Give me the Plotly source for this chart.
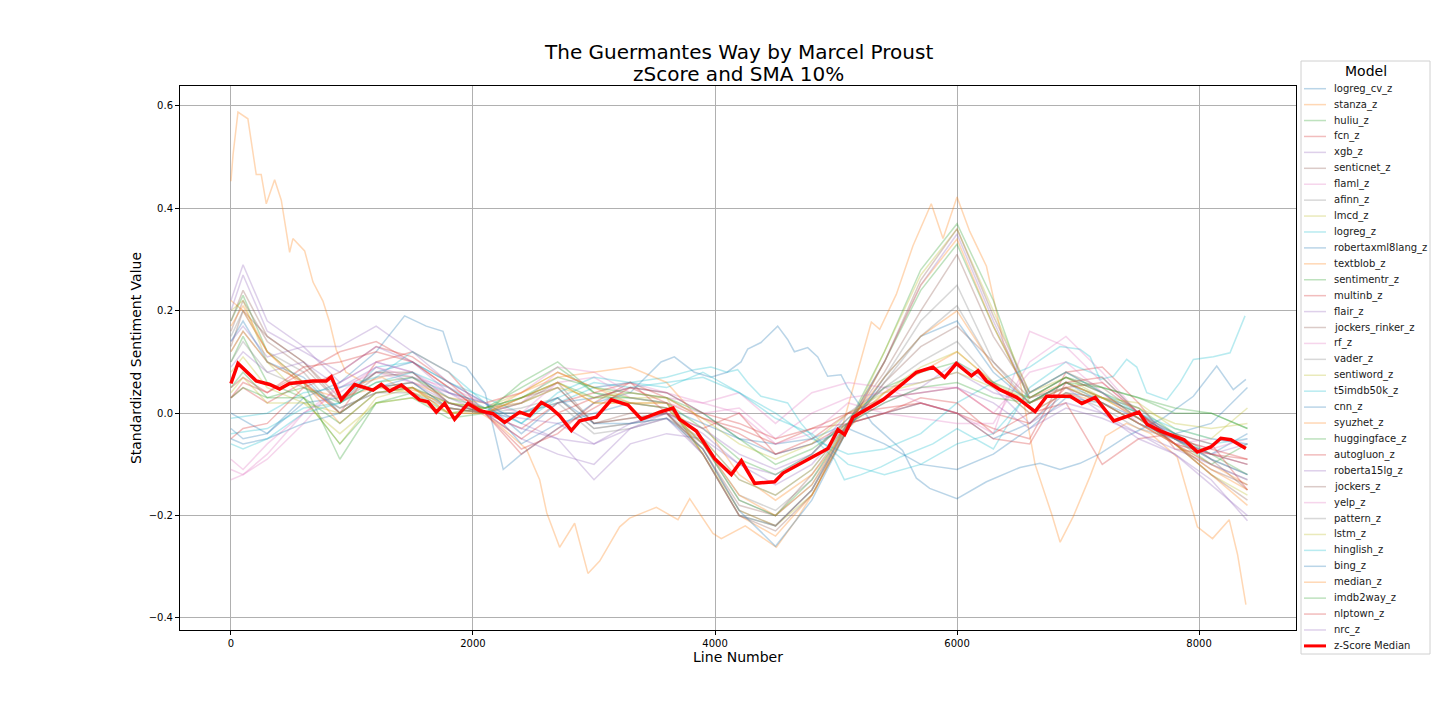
import plotly.graph_objects as go

# sample positions (line number) shared by most model curves
XB = [0, 100, 300, 600, 900, 1200, 1500, 1800, 2100, 2400, 2700, 3000, 3300, 3600, 3900,
      4200, 4500, 4800, 5100, 5400, 5700, 6000, 6300, 6600, 6900, 7200, 7500, 7800, 8100, 8400]

# stanza_z has its own finer samples (it is the outlier curve)
X_STANZA = [0, 17, 58, 140, 209, 250, 292, 361, 416, 485, 512, 609, 678, 760, 815, 870, 950,
            1100, 1250, 1400, 1600, 1800, 2000, 2200, 2441, 2551, 2610, 2716, 2840, 2950, 3047,
            3212, 3295, 3515, 3694, 3791, 3983, 4052, 4250, 4507, 4672, 4837, 5030, 5140, 5292,
            5361, 5498, 5636, 5787, 5884, 6000, 6105, 6243, 6382, 6520, 6645, 6783, 6852, 6962,
            7100, 7225, 7400, 7600, 7820, 7986, 8111, 8249, 8318, 8387]
stanza_z = [0.453, 0.504, 0.588, 0.575, 0.466, 0.466, 0.409, 0.456, 0.416, 0.314, 0.341, 0.317,
            0.256, 0.219, 0.178, 0.124, 0.08, 0.06, 0.07, 0.05, 0.04, 0.02, 0.01, -0.02, -0.07,
            -0.13, -0.195, -0.262, -0.215, -0.313, -0.289, -0.222, -0.205, -0.184, -0.208, -0.167,
            -0.235, -0.245, -0.22, -0.262, -0.208, -0.147, -0.045, 0.049, 0.178, 0.164, 0.232,
            0.327, 0.409, 0.341, 0.422, 0.355, 0.287, 0.138, 0.063, -0.100, -0.198, -0.252,
            -0.201, -0.123, -0.045, -0.02, -0.04, -0.086, -0.222, -0.245, -0.208, -0.276, -0.374]

# blue curve that runs against the others (high near 4500, low near 6000)
X_ROBXML = [0, 300, 600, 900, 1200, 1435, 1614, 1752, 1834, 1945, 2100, 2250, 2400, 2700, 3000,
            3300, 3554, 3664, 3829, 3966, 4100, 4215, 4270, 4380, 4518, 4600, 4656, 4766, 4849,
            4931, 5041, 5096, 5300, 5550, 5664, 5774, 6000, 6243, 6520, 6686, 6851, 7016, 7182,
            7405, 7700, 7953, 8146, 8283, 8387]
robertaxml8lang_z = [0.0, -0.04, 0.03, 0.06, 0.12, 0.19, 0.17, 0.16, 0.10, 0.09, 0.04, -0.11, -0.08,
                     -0.03, 0.02, 0.04, 0.10, 0.11, 0.08, 0.07, 0.08, 0.10, 0.125, 0.138, 0.17, 0.144,
                     0.12, 0.128, 0.11, 0.072, 0.075, 0.05, -0.02, -0.073, -0.127, -0.147, -0.167,
                     -0.134, -0.106, -0.098, -0.11, -0.098, -0.079, -0.045, -0.01, 0.033, 0.092,
                     0.046, 0.066]

# cyan curve that drops after 4200
X_LOGREG = [0, 300, 600, 900, 1200, 1500, 1800, 2100, 2400, 2700, 3000, 3300, 3600, 3829, 3966,
            4100, 4187, 4270, 4380, 4600, 4711, 4821, 4987, 5069, 5207, 5372, 5537, 5800, 6000,
            6300, 6600, 6900, 7200, 7500, 7800, 8100, 8400]
logreg_z = [-0.04, -0.03, 0.01, 0.02, 0.09, 0.1, 0.06, 0.03, 0.0, 0.02, 0.05, 0.06, 0.07, 0.085,
            0.09, 0.08, 0.085, 0.06, 0.033, 0.02, -0.02, -0.05, -0.09, -0.13, -0.12, -0.105,
            -0.085, -0.06, -0.03, -0.07, 0.05, 0.1, 0.07, 0.0, -0.04, -0.06, -0.05]

# cyan curve that climbs at the end
X_T5 = [0, 300, 600, 900, 1200, 1500, 1800, 2100, 2400, 2700, 3000, 3300, 3600, 3900, 4200,
        4500, 4800, 5100, 5400, 5700, 6000, 6300, 6600, 6851, 7016, 7100, 7182, 7292, 7402,
        7485, 7568, 7733, 7843, 7953, 8118, 8256, 8380]
t5imdb50k_z = [-0.01, 0.0, 0.04, 0.05, 0.07, 0.12, 0.08, 0.02, -0.02, 0.03, 0.06, 0.05, 0.06, 0.07,
               0.04, 0.0, -0.05, -0.08, -0.07, -0.04, 0.02, 0.06, 0.09, 0.13, 0.125, 0.11, 0.066,
               0.072, 0.105, 0.09, 0.04, 0.026, 0.06, 0.105, 0.11, 0.118, 0.19]

# z-score median curve
X_MED = [0, 58, 209, 320, 402, 485, 678, 788, 829, 912, 1022, 1174, 1242, 1311, 1408, 1559,
         1628, 1697, 1766, 1848, 1959, 2055, 2165, 2262, 2386, 2468, 2565, 2634, 2716, 2813,
         2882, 3019, 3143, 3281, 3391, 3543, 3653, 3708, 3846, 3997, 4135, 4218, 4328, 4493,
         4562, 4672, 4837, 4934, 5016, 5071, 5140, 5278, 5388, 5526, 5664, 5801, 5898, 5994,
         6119, 6174, 6243, 6354, 6492, 6645, 6741, 6935, 7032, 7142, 7295, 7419, 7502, 7571,
         7682, 7876, 7986, 8097, 8180, 8263, 8387]
Y_MED = [0.058, 0.097, 0.063, 0.056, 0.047, 0.058, 0.063, 0.063, 0.071, 0.026, 0.056, 0.045,
         0.056, 0.043, 0.055, 0.026, 0.022, 0.002, 0.019, -0.012, 0.019, 0.005, -0.001, -0.018,
         0.002, -0.005, 0.021, 0.012, -0.005, -0.034, -0.015, -0.008, 0.026, 0.016, -0.012,
         0.002, 0.010, -0.012, -0.035, -0.089, -0.120, -0.093, -0.137, -0.134, -0.117, -0.103,
         -0.083, -0.069, -0.032, -0.042, -0.008, 0.012, 0.026, 0.053, 0.080, 0.090, 0.070,
         0.097, 0.073, 0.083, 0.063, 0.046, 0.031, 0.003, 0.033, 0.033, 0.019, 0.031, -0.015,
         -0.005, 0.002, -0.022, -0.035, -0.052, -0.076, -0.066, -0.049, -0.052, -0.069]

# the rest, sampled at XB
logreg_cv_z = [-0.03, -0.05, -0.04, 0.02, 0.03, 0.08, 0.1, 0.06, 0.02, -0.04, 0.02, 0.03, 0.05, 0.04, 0.0,
               -0.05, -0.06, -0.05, -0.02, 0.0, 0.02, 0.0, -0.05, -0.02, 0.04, 0.03, 0.0, -0.05, -0.08, -0.04]
huliu_z = [0.18, 0.23, 0.12, 0.06, -0.09, 0.02, 0.04, 0.0, 0.01, 0.05, 0.09, 0.04, 0.03, 0.02, -0.08,
           -0.2, -0.22, -0.15, -0.02, 0.12, 0.28, 0.37, 0.22, 0.02, 0.06, 0.03, 0.0, -0.05, -0.1, -0.06]
fcn_z = [0.03, 0.05, 0.02, 0.06, 0.0, 0.1, 0.12, 0.08, 0.0, -0.07, -0.04, 0.02, 0.06, 0.03, -0.01,
         -0.03, -0.06, -0.03, -0.02, 0.0, 0.02, 0.0, -0.03, -0.05, 0.08, 0.09, 0.02, -0.07, -0.08, -0.1]
xgb_z = [0.22, 0.29, 0.18, 0.13, 0.13, 0.17, 0.12, 0.06, 0.02, -0.02, -0.05, -0.13, -0.06, -0.04, -0.05,
         -0.1, -0.12, -0.08, 0.0, 0.05, 0.06, 0.08, 0.04, 0.02, 0.06, 0.03, 0.01, -0.05, -0.08, -0.06]
senticnet_z = [0.13, 0.2, 0.15, 0.1, 0.03, 0.08, 0.07, 0.02, 0.0, 0.03, 0.05, -0.02, 0.0, 0.0, -0.07,
               -0.18, -0.2, -0.12, -0.02, 0.08, 0.2, 0.31, 0.15, 0.04, 0.08, 0.05, 0.0, -0.04, -0.09, -0.15]
flaml_z = [-0.11, -0.12, -0.09, -0.02, 0.06, 0.1, 0.08, 0.04, 0.01, 0.02, 0.08, 0.05, 0.06, 0.04, 0.02,
           0.0, -0.06, -0.04, 0.02, 0.0, -0.01, -0.02, -0.02, 0.1, 0.15, 0.08, 0.0, -0.05, -0.07, -0.05]
afinn_z = [0.15, 0.2, 0.12, 0.08, 0.0, 0.05, 0.06, 0.01, 0.0, 0.0, 0.03, -0.03, -0.02, 0.0, -0.06,
           -0.17, -0.2, -0.14, -0.03, 0.07, 0.18, 0.25, 0.1, 0.02, 0.05, 0.02, -0.02, -0.06, -0.1, -0.13]
lmcd_z = [0.2, 0.22, 0.1, 0.03, -0.06, 0.03, 0.05, 0.0, 0.01, 0.04, 0.08, 0.05, 0.03, 0.03, -0.08,
          -0.19, -0.22, -0.16, -0.03, 0.12, 0.27, 0.36, 0.2, 0.04, 0.07, 0.03, -0.01, -0.06, -0.12, -0.16]
textblob_z = [0.22, 0.2, 0.12, 0.05, 0.03, 0.05, 0.06, 0.03, 0.02, 0.04, 0.07, 0.08, 0.09, 0.06, -0.02,
              -0.12, -0.17, -0.12, -0.03, 0.04, 0.08, 0.12, 0.06, 0.0, 0.04, 0.02, -0.02, -0.06, -0.1, -0.14]
sentimentr_z = [0.1, 0.15, 0.06, 0.03, -0.06, 0.02, 0.03, -0.01, 0.0, 0.06, 0.1, 0.04, 0.02, 0.01, -0.06,
                -0.17, -0.2, -0.13, -0.02, 0.1, 0.24, 0.33, 0.17, 0.03, 0.07, 0.04, 0.01, -0.04, -0.08, -0.12]
multinb_z = [0.05, 0.07, 0.04, 0.08, 0.12, 0.14, 0.1, 0.05, 0.0, -0.03, 0.02, 0.04, 0.06, 0.0, -0.03,
             0.0, -0.08, -0.06, -0.02, 0.0, 0.03, 0.02, -0.04, 0.0, 0.02, -0.1, -0.05, -0.04, -0.06, -0.15]
flair_z = [0.14, 0.17, 0.11, 0.13, 0.06, 0.1, 0.08, 0.03, 0.0, -0.05, -0.08, -0.1, -0.03, 0.0, -0.04,
           -0.1, -0.14, -0.1, -0.02, 0.02, 0.05, 0.1, 0.05, -0.02, 0.02, 0.0, -0.05, -0.08, -0.13, -0.21]
jockers_rinker_z = [0.16, 0.22, 0.14, 0.09, 0.02, 0.07, 0.08, 0.02, 0.0, 0.02, 0.05, -0.02, -0.01, 0.0, -0.07,
                    -0.19, -0.22, -0.15, -0.03, 0.06, 0.13, 0.17, 0.1, 0.03, 0.07, 0.04, -0.01, -0.06, -0.11, -0.14]
rf_z = [-0.09, -0.11, -0.06, 0.0, 0.05, 0.08, 0.06, 0.04, 0.02, 0.04, 0.09, 0.08, 0.04, 0.03, 0.02,
        0.04, -0.02, 0.04, 0.06, 0.05, 0.02, 0.0, -0.04, 0.16, 0.13, 0.06, 0.0, -0.06, -0.05, -0.06]
vader_z = [0.12, 0.16, 0.1, 0.06, 0.01, 0.04, 0.05, 0.01, 0.0, 0.01, 0.03, -0.03, -0.02, -0.01, -0.06,
           -0.16, -0.19, -0.13, -0.03, 0.06, 0.15, 0.21, 0.09, 0.02, 0.05, 0.02, -0.02, -0.05, -0.09, -0.12]
sentiword_z = [0.08, 0.11, 0.05, 0.02, -0.04, 0.02, 0.03, 0.0, 0.0, 0.03, 0.06, 0.02, 0.02, 0.02, -0.05,
               -0.13, -0.16, -0.11, -0.02, 0.04, 0.09, 0.12, 0.06, 0.02, 0.06, 0.03, 0.02, -0.03, -0.05, 0.01]
cnn_z = [-0.05, -0.06, -0.05, -0.02, 0.0, 0.05, 0.07, 0.04, 0.02, -0.06, -0.02, 0.0, 0.02, 0.01, -0.02,
         -0.05, -0.08, -0.06, -0.03, -0.06, -0.1, -0.11, -0.08, -0.03, 0.03, 0.02, -0.01, -0.04, -0.02, 0.05]
syuzhet_z = [0.17, 0.21, 0.12, 0.06, -0.02, 0.04, 0.05, 0.0, 0.0, 0.04, 0.08, 0.05, 0.02, 0.02, -0.08,
             -0.2, -0.24, -0.16, -0.03, 0.1, 0.25, 0.34, 0.17, 0.03, 0.06, 0.03, -0.01, -0.06, -0.12, -0.18]
huggingface_z = [0.05, 0.08, 0.03, 0.03, -0.02, 0.04, 0.05, 0.02, 0.01, 0.03, 0.06, 0.03, 0.03, 0.02, -0.03,
                 -0.09, -0.12, -0.08, -0.01, 0.05, 0.08, 0.1, 0.06, 0.03, 0.07, 0.05, 0.03, 0.0, 0.0, -0.03]
autogluon_z = [0.03, 0.06, 0.04, 0.09, 0.1, 0.12, 0.1, 0.05, 0.0, -0.05, 0.0, 0.03, 0.05, 0.02, -0.01,
               -0.04, -0.08, -0.05, 0.0, 0.03, 0.04, 0.05, 0.0, -0.02, 0.05, 0.06, 0.0, -0.05, -0.07, -0.09]
roberta15lg_z = [0.09, 0.12, 0.08, 0.1, 0.05, 0.09, 0.06, 0.02, 0.0, -0.03, -0.05, -0.06, -0.02, 0.0, -0.03,
                 -0.08, -0.11, -0.08, -0.01, 0.03, 0.04, 0.05, 0.02, -0.03, 0.01, -0.01, -0.04, -0.07, -0.1, -0.13]
jockers_z = [0.18, 0.24, 0.15, 0.1, 0.02, 0.08, 0.08, 0.02, 0.0, 0.02, 0.06, -0.02, -0.01, 0.0, -0.08,
             -0.2, -0.23, -0.16, -0.03, 0.1, 0.26, 0.36, 0.19, 0.04, 0.08, 0.04, -0.01, -0.06, -0.12, -0.17]
yelp_z = [-0.13, -0.12, -0.08, 0.0, 0.04, 0.09, 0.07, 0.05, 0.02, 0.0, 0.06, 0.07, 0.03, 0.02, 0.0,
          0.01, -0.05, 0.0, 0.03, 0.04, 0.05, 0.05, 0.0, 0.08, 0.1, 0.04, -0.02, -0.06, -0.08, -0.1]
pattern_z = [0.1, 0.14, 0.08, 0.05, 0.01, 0.04, 0.04, 0.01, 0.0, 0.0, 0.02, -0.04, -0.03, -0.01, -0.05,
             -0.13, -0.16, -0.11, -0.02, 0.05, 0.1, 0.14, 0.06, 0.0, 0.04, 0.01, -0.03, -0.05, -0.08, -0.1]
lstm_z = [0.04, 0.07, 0.02, 0.02, 0.0, 0.05, 0.04, 0.02, 0.01, 0.02, 0.05, 0.03, 0.04, 0.03, -0.01,
          -0.06, -0.09, -0.06, 0.0, 0.04, 0.06, 0.08, 0.05, 0.03, 0.05, 0.03, 0.01, -0.02, -0.03, -0.02]
hinglish_z = [-0.06, -0.07, -0.05, 0.0, 0.02, 0.06, 0.08, 0.05, 0.01, -0.02, 0.04, 0.07, 0.06, 0.05, 0.08,
              0.04, -0.01, -0.04, -0.1, -0.12, -0.1, -0.06, -0.04, 0.04, 0.08, 0.04, 0.0, -0.03, -0.05, -0.06]
bing_z = [0.14, 0.18, 0.1, 0.07, 0.0, 0.05, 0.06, 0.01, 0.0, 0.0, 0.03, -0.02, -0.02, -0.01, -0.07,
          -0.19, -0.26, -0.17, -0.03, 0.07, 0.15, 0.18, 0.08, 0.02, 0.06, 0.02, -0.02, -0.05, -0.09, -0.12]
median_z = [0.12, 0.16, 0.1, 0.06, 0.0, 0.05, 0.05, 0.01, 0.0, 0.03, 0.06, 0.02, 0.02, 0.01, -0.06,
            -0.16, -0.2, -0.14, -0.02, 0.07, 0.15, 0.2, 0.09, 0.02, 0.05, 0.02, -0.02, -0.06, -0.11, -0.15]
imdb2way_z = [0.03, 0.05, 0.03, 0.05, 0.02, 0.06, 0.07, 0.03, 0.01, 0.03, 0.07, 0.05, 0.04, 0.03, 0.0,
              -0.05, -0.1, -0.07, -0.02, 0.02, 0.05, 0.06, 0.03, 0.02, 0.06, 0.05, 0.03, 0.01, 0.0, -0.03]
nlptown_z = [-0.05, -0.03, -0.02, 0.05, 0.08, 0.13, 0.11, 0.06, 0.0, -0.08, -0.03, 0.01, 0.05, 0.04, 0.0,
             -0.02, -0.05, -0.03, 0.0, 0.01, 0.02, 0.0, -0.05, -0.06, 0.06, 0.07, 0.0, -0.06, -0.08, -0.09]
nrc_z = [0.2, 0.27, 0.16, 0.12, 0.08, 0.13, 0.1, 0.04, 0.0, -0.01, -0.02, -0.06, -0.03, -0.01, -0.08,
         -0.2, -0.22, -0.15, -0.02, 0.1, 0.25, 0.35, 0.18, 0.03, 0.05, 0.0, -0.04, -0.08, -0.14, -0.2]

MODELS = ['logreg_cv_z', 'stanza_z', 'huliu_z', 'fcn_z', 'xgb_z', 'senticnet_z', 'flaml_z',
          'afinn_z', 'lmcd_z', 'logreg_z', 'robertaxml8lang_z', 'textblob_z', 'sentimentr_z',
          'multinb_z', 'flair_z', 'jockers_rinker_z', 'rf_z', 'vader_z', 'sentiword_z',
          't5imdb50k_z', 'cnn_z', 'syuzhet_z', 'huggingface_z', 'autogluon_z', 'roberta15lg_z',
          'jockers_z', 'yelp_z', 'pattern_z', 'lstm_z', 'hinglish_z', 'bing_z', 'median_z',
          'imdb2way_z', 'nlptown_z', 'nrc_z']

# curves with their own x samples
OWN_X = {'stanza_z': X_STANZA, 'robertaxml8lang_z': X_ROBXML,
         'logreg_z': X_LOGREG, 't5imdb50k_z': X_T5}

TAB10 = ['#1f77b4', '#ff7f0e', '#2ca02c', '#d62728', '#9467bd',
         '#8c564b', '#e377c2', '#7f7f7f', '#bcbd22', '#17becf']

# the page body has an 8px margin, so work in page pixels and shift back
OFF = 8
L, R, T, B = 180 - OFF, 1296 - OFF, 86 - OFF, 630 - OFF


def px_x(px):
    return (px - OFF - L) / (R - L)


def px_y(py):
    return (B - (py - OFF)) / (B - T)


fig = go.Figure()
for i, name in enumerate(MODELS):
    fig.add_trace(go.Scatter(x=OWN_X.get(name, XB), y=globals()[name], mode='lines', name=name,
                             opacity=0.3, line=dict(color=TAB10[i % 10], width=1.5)))

fig.add_trace(go.Scatter(x=X_MED, y=Y_MED, mode='lines', name='z-Score Median',
                         line=dict(color='red', width=3.5)))

# hand-built legend (plotly's own legend rows are too tall for 36 entries)
shapes = [dict(type='rect', xref='paper', yref='paper',
               x0=px_x(1301), x1=px_x(1430), y0=px_y(61), y1=px_y(654),
               line=dict(color='#d0d0d0', width=1), fillcolor='white', layer='above')]
annotations = [dict(text='Model', xref='paper', yref='paper', x=px_x(1366), y=px_y(71),
                    xanchor='center', yanchor='middle', showarrow=False,
                    font=dict(size=14, color='black'))]
labels = MODELS + ['z-Score Median']
for i, name in enumerate(labels):
    ypx = 88.7 + i * 15.92
    if name == 'z-Score Median':
        col, op, w = 'red', 1.0, 3
    else:
        col, op, w = TAB10[i % 10], 0.3, 1.5
    shapes.append(dict(type='line', xref='paper', yref='paper',
                       x0=px_x(1304), x1=px_x(1326), y0=px_y(ypx), y1=px_y(ypx),
                       line=dict(color=col, width=w), opacity=op, layer='above'))
    annotations.append(dict(text=name, xref='paper', yref='paper', x=px_x(1332), y=px_y(ypx),
                            xanchor='left', yanchor='middle', showarrow=False,
                            font=dict(size=10, color='#1a1a1a')))

# title as two lines with matplotlib-like spacing
annotations.append(dict(text='The Guermantes Way by Marcel Proust', xref='paper', yref='paper',
                        x=0.5, y=px_y(52), xanchor='center', yanchor='middle', showarrow=False,
                        font=dict(size=20, color='black')))
annotations.append(dict(text='zScore and SMA 10%', xref='paper', yref='paper',
                        x=0.5, y=px_y(74), xanchor='center', yanchor='middle', showarrow=False,
                        font=dict(size=20, color='black')))

axis_common = dict(showline=True, linecolor='black', linewidth=1, mirror=True,
                   showgrid=True, gridcolor='#b0b0b0', gridwidth=0.8, zeroline=False,
                   ticks='outside', ticklen=4, tickcolor='black',
                   tickfont=dict(size=10, color='black'))

fig.update_layout(
    width=1440, height=720,
    font=dict(family='DejaVu Sans', color='black'),
    paper_bgcolor='white', plot_bgcolor='white',
    margin=dict(l=L, r=1440 - R, t=T, b=720 - B, autoexpand=False),
    xaxis=dict(axis_common, range=[-421, 8801], tickvals=[0, 2000, 4000, 6000, 8000],
               title=dict(text='Line Number', font=dict(size=14), standoff=4)),
    yaxis=dict(axis_common, range=[-0.4235, 0.639], tickvals=[-0.4, -0.2, 0.0, 0.2, 0.4, 0.6],
               tickformat='.1f',
               title=dict(text='Standardized Sentiment Value', font=dict(size=14), standoff=3)),
    showlegend=False,
    shapes=shapes,
    annotations=annotations,
)

fig.write_html("out.html")
